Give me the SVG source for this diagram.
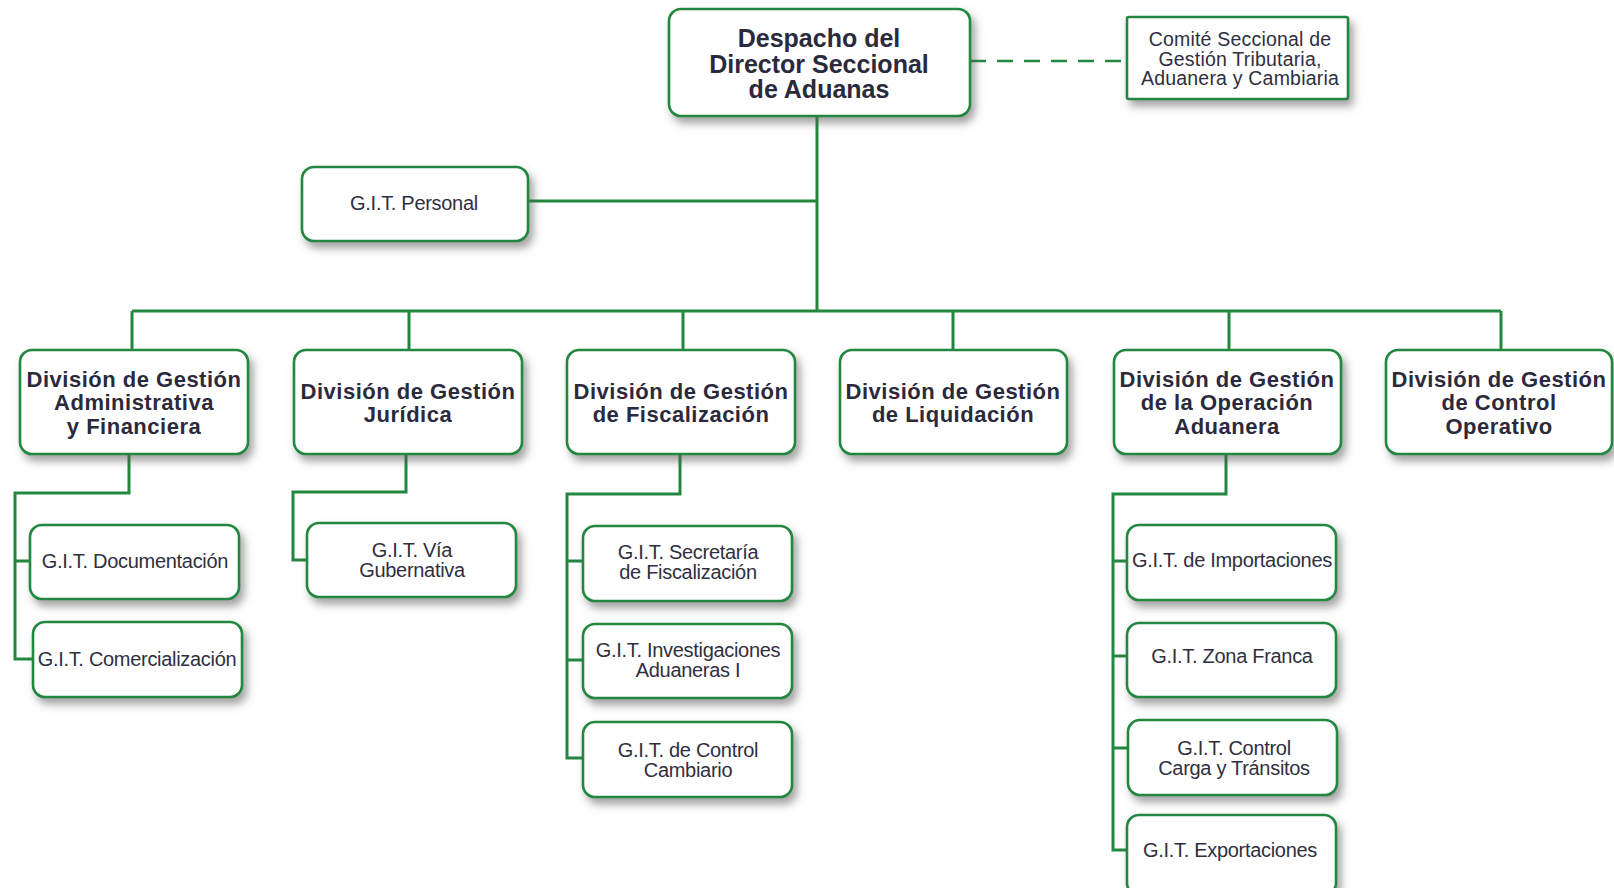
<svg xmlns="http://www.w3.org/2000/svg" width="1614" height="888" viewBox="0 0 1614 888">
<defs>
<filter id="sh" x="-10%" y="-10%" width="130%" height="140%">
<feDropShadow dx="4" dy="6" stdDeviation="4" flood-color="#555" flood-opacity="0.55"/>
</filter>
<style>
.box{fill:#fff;stroke:#23873f;stroke-width:2.6;filter:url(#sh)}
.ln{fill:none;stroke:#23873f;stroke-width:3}
.dash{fill:none;stroke:#23873f;stroke-width:2.6;stroke-dasharray:16 11}
.hd{font-family:"Liberation Sans",Arial,sans-serif;font-weight:bold;font-size:25px;fill:#2b2a3c;text-anchor:middle}
.dv{font-family:"Liberation Sans",Arial,sans-serif;font-weight:bold;font-size:22px;fill:#2b2a3c;text-anchor:middle;letter-spacing:0.5px}
.gt{font-family:"Liberation Sans",Arial,sans-serif;font-size:20px;fill:#2f2f3f;text-anchor:middle;letter-spacing:-0.3px}
.cm{font-family:"Liberation Sans",Arial,sans-serif;font-size:19.5px;fill:#2f2f3f;text-anchor:middle;letter-spacing:0.2px}
</style>
</defs>
<g id="connectors">
<path class="dash" d="M970 61 H1127"/>
<path class="ln" d="M817 116 V311"/>
<path class="ln" d="M528 201 H817"/>
<path class="ln" d="M132 311 H1501"/>
<path class="ln" d="M132 311 V350 M409 311 V350 M683 311 V350 M953 311 V350 M1229 311 V350 M1501 311 V350"/>
<path class="ln" d="M129 454 V493 H15 V659 H33 M15 561 H30"/>
<path class="ln" d="M406 454 V492 H293 V560 H307"/>
<path class="ln" d="M680 454 V494 H567 V758 H583 M567 561 H583 M567 660 H583"/>
<path class="ln" d="M1226 454 V494 H1113 V850 H1127 M1113 561 H1127 M1113 656 H1127 M1113 748 H1127"/>
</g>
<g id="head">
<rect class="box" x="669" y="9" width="301" height="107" rx="12"/>
<text class="hd" x="819" y="47">Despacho del</text>
<text class="hd" x="819" y="73">Director Seccional</text>
<text class="hd" x="819" y="98">de Aduanas</text>
</g>
<g id="comite">
<rect class="box" x="1127" y="17" width="221" height="82" rx="2"/>
<text class="cm" x="1240" y="46">Comité Seccional de</text>
<text class="cm" x="1240" y="66">Gestión Tributaria,</text>
<text class="cm" x="1240" y="85">Aduanera y Cambiaria</text>
</g>
<g id="personal">
<rect class="box" x="302" y="167" width="226" height="74" rx="12"/>
<text class="gt" x="414" y="210">G.I.T. Personal</text>
</g>
<g id="div-admin">
<rect class="box" x="20" y="350" width="228" height="104" rx="12"/>
<text class="dv" x="134" y="387">División de Gestión</text>
<text class="dv" x="134" y="410">Administrativa</text>
<text class="dv" x="134" y="434">y Financiera</text>
</g>
<g id="div-juridica">
<rect class="box" x="294" y="350" width="228" height="104" rx="12"/>
<text class="dv" x="408" y="399">División de Gestión</text>
<text class="dv" x="408" y="422">Jurídica</text>
</g>
<g id="div-fisc">
<rect class="box" x="567" y="350" width="228" height="104" rx="12"/>
<text class="dv" x="681" y="399">División de Gestión</text>
<text class="dv" x="681" y="422">de Fiscalización</text>
</g>
<g id="div-liq">
<rect class="box" x="840" y="350" width="227" height="104" rx="12"/>
<text class="dv" x="953" y="399">División de Gestión</text>
<text class="dv" x="953" y="422">de Liquidación</text>
</g>
<g id="div-oper">
<rect class="box" x="1114" y="350" width="227" height="104" rx="12"/>
<text class="dv" x="1227" y="387">División de Gestión</text>
<text class="dv" x="1227" y="410">de la Operación</text>
<text class="dv" x="1227" y="434">Aduanera</text>
</g>
<g id="div-control">
<rect class="box" x="1386" y="350" width="226" height="104" rx="12"/>
<text class="dv" x="1499" y="387">División de Gestión</text>
<text class="dv" x="1499" y="410">de Control</text>
<text class="dv" x="1499" y="434">Operativo</text>
</g>
<g id="git-doc">
<rect class="box" x="30" y="525" width="209" height="74" rx="12"/>
<text class="gt" x="135" y="568">G.I.T. Documentación</text>
</g>
<g id="git-com">
<rect class="box" x="33" y="622" width="209" height="75" rx="12"/>
<text class="gt" x="137" y="666">G.I.T. Comercialización</text>
</g>
<g id="git-via">
<rect class="box" x="307" y="523" width="209" height="74" rx="12"/>
<text class="gt" x="412" y="557">G.I.T. Vía</text>
<text class="gt" x="412" y="577">Gubernativa</text>
</g>
<g id="git-sec">
<rect class="box" x="583" y="526" width="209" height="75" rx="12"/>
<text class="gt" x="688" y="559">G.I.T. Secretaría</text>
<text class="gt" x="688" y="579">de Fiscalización</text>
</g>
<g id="git-inv">
<rect class="box" x="583" y="624" width="209" height="74" rx="12"/>
<text class="gt" x="688" y="657">G.I.T. Investigaciones</text>
<text class="gt" x="688" y="677">Aduaneras I</text>
</g>
<g id="git-cam">
<rect class="box" x="583" y="722" width="209" height="75" rx="12"/>
<text class="gt" x="688" y="757">G.I.T. de Control</text>
<text class="gt" x="688" y="777">Cambiario</text>
</g>
<g id="git-imp">
<rect class="box" x="1127" y="525" width="209" height="75" rx="12"/>
<text class="gt" x="1232" y="567">G.I.T. de Importaciones</text>
</g>
<g id="git-zf">
<rect class="box" x="1127" y="623" width="209" height="74" rx="12"/>
<text class="gt" x="1232" y="663">G.I.T. Zona Franca</text>
</g>
<g id="git-carga">
<rect class="box" x="1128" y="720" width="209" height="75" rx="12"/>
<text class="gt" x="1234" y="755">G.I.T. Control</text>
<text class="gt" x="1234" y="775">Carga y Tránsitos</text>
</g>
<g id="git-exp">
<rect class="box" x="1127" y="815" width="209" height="80" rx="12"/>
<text class="gt" x="1230" y="857">G.I.T. Exportaciones</text>
</g>
</svg>
